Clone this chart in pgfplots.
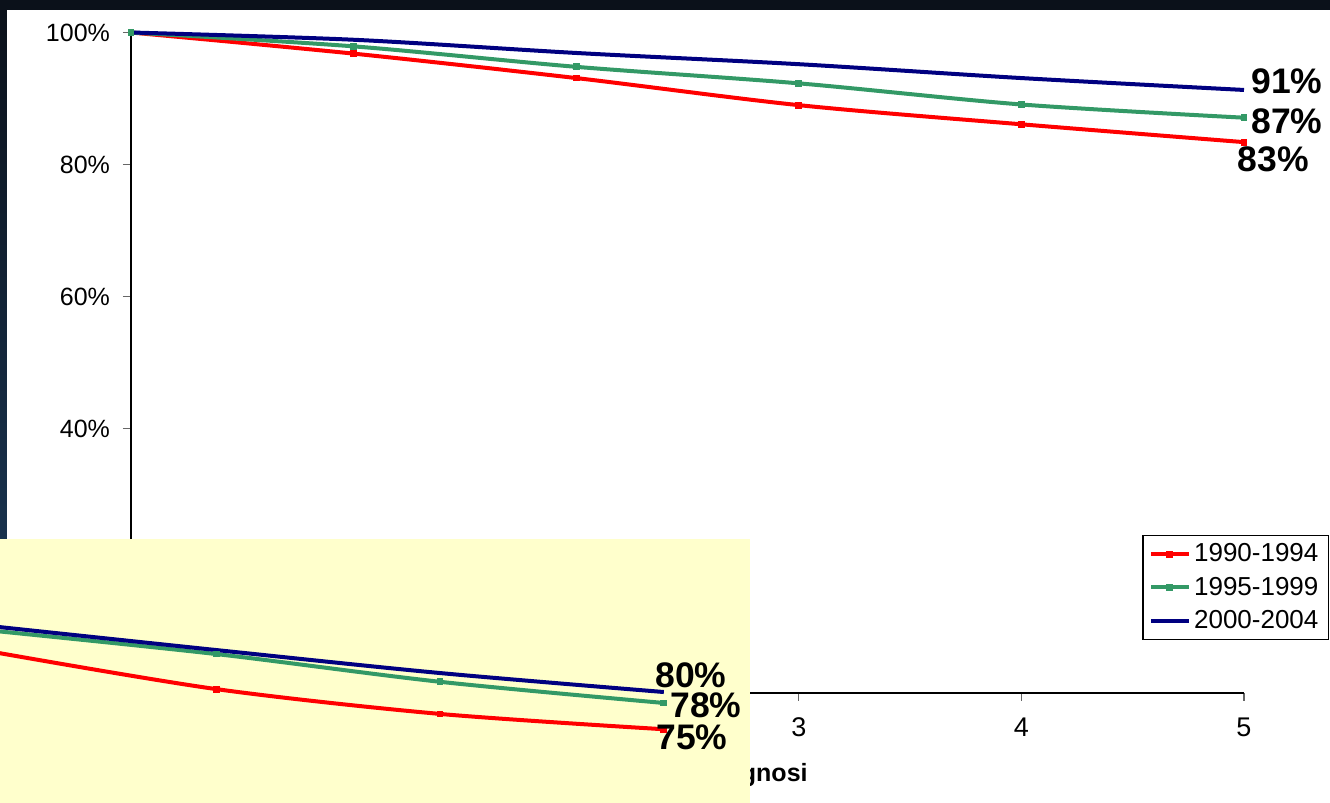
\documentclass[border=0pt]{standalone}
\usepackage{fontspec}
\setmainfont{Liberation Sans}
\usepackage{pgfplots}
\pgfplotsset{compat=1.18}
\definecolor{cred}{RGB}{255,0,0}
\definecolor{cgreen}{RGB}{51,153,102}
\definecolor{cblue}{RGB}{0,0,128}
\definecolor{cyel}{RGB}{255,255,204}
\definecolor{dtop}{RGB}{11,17,26}
\definecolor{dbot}{RGB}{31,66,102}
\begin{document}
\begin{tikzpicture}
\useasboundingbox (0,0) rectangle (665pt,401.5pt);
\fill[dtop] (0,0) rectangle (665pt,401.5pt);
\shade[top color=dtop,bottom color=dbot] (0,0) rectangle (3.5pt,396.5pt);
\fill[white] (3.5pt,0) rectangle (665pt,396.5pt);
\begin{axis}[
  at={(65.5pt,55pt)}, anchor=south west,
  scale only axis, width=556.5pt, height=330.25pt,
  xmin=0,xmax=5,ymin=0,ymax=100,
  axis lines=left, axis line style={-, black, line width=0.6pt},
  xtick={0,...,5}, ytick={0,20,...,100},
  tick align=outside, major tick length=4pt,
  tick style={black!60, line width=0.6pt},
  /pgf/number format/assume math mode=true,
  yticklabel={\pgfmathprintnumber{\tick}\%},
  yticklabel style={font=\fontsize{12.5}{14}\selectfont, xshift=-3pt},
  xticklabel style={font=\fontsize{13.5}{15}\selectfont, yshift=-5pt},
  clip=false,
  legend style={at={(1.0764,0.239)}, anchor=north east, draw=black, line width=0.6pt,
    font=\fontsize{13}{15}\selectfont, row sep=2pt, inner xsep=3pt},
  legend cell align=left,
  legend image code/.code={\draw[mark repeat=2, mark phase=2,#1] plot coordinates {(0pt,0pt)(9.25pt,0pt)(18.5pt,0pt)};},
  every axis plot/.append style={line width=2pt, mark size=0.7pt},
]
\addplot[cred, smooth, mark=square*] coordinates {(0,100)(1,96.8)(2,93.1)(3,89.0)(4,86.1)(5,83.4)};
\addlegendentry{1990-1994}
\addplot[cgreen, smooth, mark=square*] coordinates {(0,100)(1,97.9)(2,94.8)(3,92.3)(4,89.1)(5,87.1)};
\addlegendentry{1995-1999}
\addplot[cblue, smooth, mark=none] coordinates {(0,100)(1,98.9)(2,96.9)(3,95.2)(4,93.1)(5,91.3)};
\addlegendentry{2000-2004}
\end{axis}
\node[anchor=base east, inner sep=0, font=\fontsize{12.5}{14}\selectfont\bfseries] at (404pt,10.5pt) {Anni dalla diagnosi};
\begin{scope}[every node/.style={inner sep=0, font=\fontsize{17.75}{20}\selectfont\bfseries}]
\node at (643.5pt,361pt) {91\%};
\node at (643.5pt,341pt) {87\%};
\node at (636.75pt,322pt) {83\%};
\end{scope}
\fill[cyel] (0,0) rectangle (375pt,132pt);
\begin{axis}[
  at={(0pt,0pt)}, anchor=south west,
  scale only axis, width=375pt, height=132pt,
  xmin=2.034, xmax=5.385, ymin=64.8, ymax=100.96,
  hide axis, clip=true,
  every axis plot/.append style={line width=2pt, mark size=0.7pt},
]
\addplot[cred, smooth, mark=square*] coordinates {(2,85.5)(3,80.4)(4,77.0)(5,74.9)};
\addplot[cgreen, smooth, mark=square*] coordinates {(2,88.4)(3,85.2)(4,81.4)(5,78.5)};
\addplot[cblue, smooth, mark=none] coordinates {(2,89.0)(3,85.75)(4,82.6)(5,80.0)};
\end{axis}
\begin{scope}[every node/.style={inner sep=0, font=\fontsize{17.75}{20}\selectfont\bfseries}]
\node at (345.5pt,64pt) {80\%};
\node at (353pt,48.75pt) {78\%};
\node at (346pt,32.75pt) {75\%};
\end{scope}
\end{tikzpicture}
\end{document}
